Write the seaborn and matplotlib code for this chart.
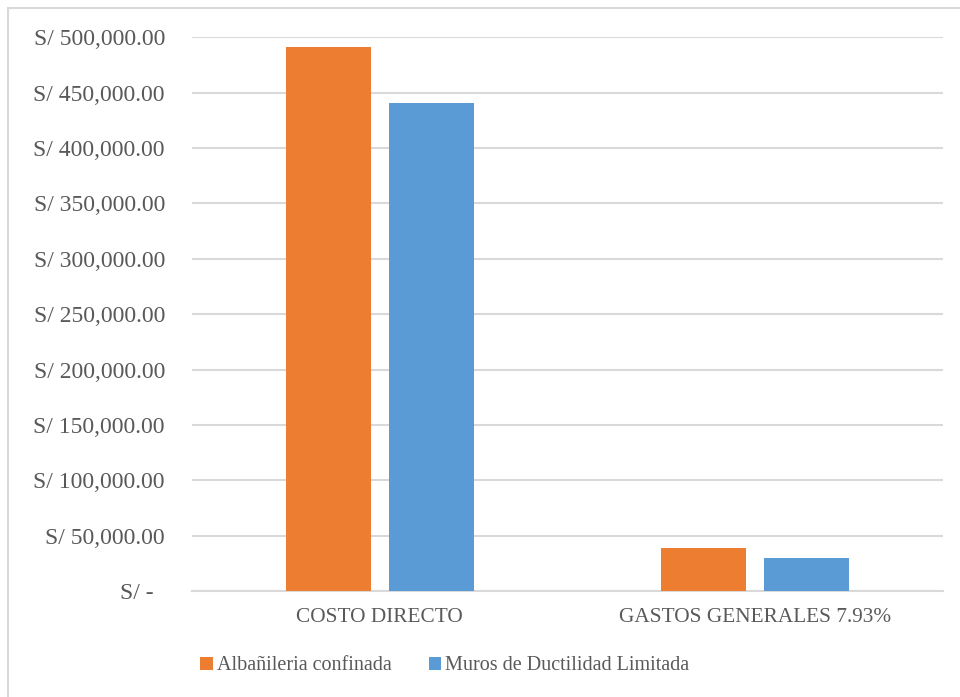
import matplotlib
matplotlib.use("Agg")
import matplotlib.pyplot as plt
import matplotlib.patches as mpatches
import matplotlib.ticker as mticker
import pandas as pd
import seaborn as sns

# Cost comparison between the two structural systems
categories = ["COSTO DIRECTO", "GASTOS GENERALES 7.93%"]
systems = ["Albañileria confinada", "Muros de Ductilidad Limitada"]
albanileria = [491000, 38900]
muros_dl = [440400, 29500]
y_ticks = list(range(0, 500001, 50000))

colors = ["#ED7D31", "#5B9BD5"]
text_color = "#595959"
grid_color = "#D9D9D9"

df = pd.DataFrame({
    "categoria": categories * 2,
    "sistema": [systems[0]] * 2 + [systems[1]] * 2,
    "costo": albanileria + muros_dl,
})

sns.set_theme(style="white")
plt.rcParams["font.family"] = ["Liberation Serif", "DejaVu Serif"]

fig = plt.figure(figsize=(9.6, 6.97), dpi=100)
ax = fig.add_axes([0.2, 0.1521, 0.7823, 0.7944])

sns.barplot(data=df, x="categoria", y="costo", hue="sistema",
            palette=colors, width=0.548, gap=0.175, saturation=1,
            order=categories, hue_order=systems, legend=False, ax=ax,
            linewidth=0, zorder=3)

ax.set_ylim(0, 500000)
ax.set_xlim(-0.5, len(categories) - 0.5)
ax.set_yticks(y_ticks)


def soles(v, pos):
    if v == 0:
        return "S/ -  "
    return f"S/ {v:,.2f}"


ax.yaxis.set_major_formatter(mticker.FuncFormatter(soles))
ax.grid(axis="y", color=grid_color, linewidth=1.5, zorder=0)
ax.grid(axis="x", visible=False)
ax.set_axisbelow(True)

for side in ["top", "right", "left"]:
    ax.spines[side].set_visible(False)
ax.spines["bottom"].set_color(grid_color)
ax.spines["bottom"].set_linewidth(1.5)

ax.tick_params(axis="y", length=0, pad=19.5, labelsize=17, labelcolor=text_color)
ax.tick_params(axis="x", which="major", length=0, pad=12.5, labelsize=15.3,
               labelcolor=text_color)
ax.set_xticks([i - 0.5 for i in range(len(categories) + 1)], minor=True)
ax.tick_params(axis="x", which="minor", length=5, width=1.5, color=grid_color)
ax.set_xlabel("")
ax.set_ylabel("")

handles = [mpatches.Patch(facecolor=c, edgecolor="none", label=s)
           for c, s in zip(colors, systems)]
fig.legend(handles=handles, loc="center", bbox_to_anchor=(445 / 960, 1 - 666 / 697),
           ncol=2, frameon=False, fontsize=14.5, labelcolor=text_color,
           handlelength=0.62, handleheight=0.62, handletextpad=0.2,
           columnspacing=1.85)

# Light frame around the chart area
frame = mpatches.Rectangle((8 / 960, -0.05), 1.1, 1 - 8 / 697 + 0.05,
                           transform=fig.transFigure, fill=False,
                           edgecolor=grid_color, linewidth=1.5)
fig.patches.append(frame)

fig.savefig("out.png", dpi=100)
